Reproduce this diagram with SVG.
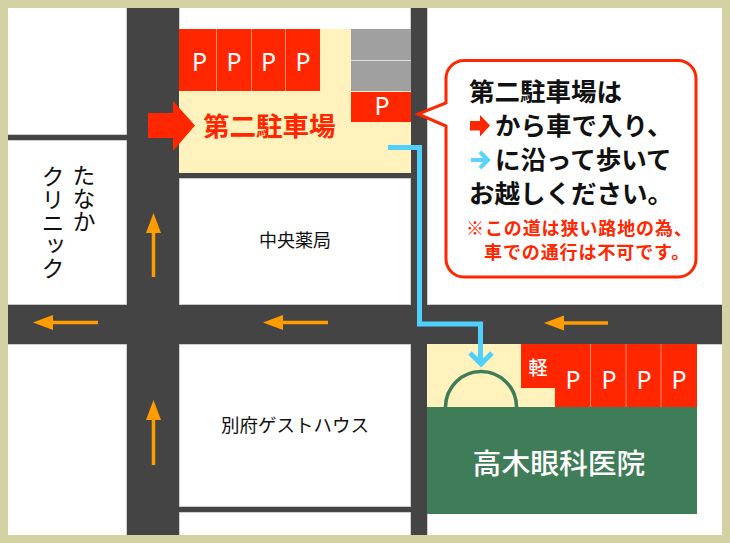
<svg xmlns="http://www.w3.org/2000/svg" width="730" height="543" viewBox="0 0 730 543">
<style>
text{font-family:"Noto Sans CJK JP","Noto Sans",sans-serif}
.p{font-family:"Noto Sans",sans-serif;font-size:25px;font-weight:400;fill:#fff;text-anchor:middle}
.red{fill:#ff2600}
.div{stroke:#ff8a70;stroke-width:1}
.ow{fill:none;stroke:#ff9d00;stroke-width:3.5}
.oh{fill:#ff9d00}
.lbl{fill:#111;font-size:18px;text-anchor:middle}
.v{fill:#111;font-size:23px;writing-mode:vertical-rl}
.bb{fill:#111;font-size:25.5px;font-weight:700}
.rs{fill:#ff2600;font-size:18px;font-weight:700;letter-spacing:.9px}
</style>
<rect width="730" height="543" fill="#fff"/>
<g id="roads">
<path d="M127 8h52v527h-52zM411 8h16v527h-16zM8 305h714v39H8zM8 135h119v5H8zM179 173h232v5H179zM179 507h232v5H179z" fill="#444" stroke="#bbb" stroke-width="1.4" paint-order="stroke"/>
</g>
<rect id="frame" x="4" y="4" width="722" height="535" fill="none" stroke="#d4d2a4" stroke-width="8"/>
<g id="parking2">
<rect x="179" y="29" width="232" height="144" fill="#fff2bc"/>
<rect class="red" x="179" y="29" width="141" height="62"/>
<path class="div" d="M216.500 29v62M251.500 29v62M285.500 29v62"/>
<rect x="351" y="29" width="60" height="62" fill="#a0a0a0"/>
<path d="M351 60.500h60" stroke="#ddd" stroke-width="1"/>
<rect class="red" x="351" y="92" width="60" height="30"/>
<text class="p" x="199.500" y="71">P</text><text class="p" x="234" y="71">P</text><text class="p" x="268.500" y="71">P</text><text class="p" x="303" y="71">P</text>
<text class="p" x="382" y="115">P</text>
<text x="203" y="136" font-size="26.500" font-weight="700" fill="#ff2600">第二駐車場</text>
</g>
<path id="entry-arrow" class="red" d="M148 113h25v-12l22 24.500-22 25.500v-13h-25z"/>
<g id="nakaoyakkyoku"><text class="lbl" x="295" y="247">中央薬局</text></g>
<g id="guesthouse"><text class="lbl" x="295" y="432" style="font-size:18.500px">別府ゲストハウス</text></g>
<g id="clinic"><text class="v" x="84" y="164">たなか</text><text class="v" x="53" y="165">クリニック</text></g>
<g id="hospital">
<rect x="427" y="344" width="128" height="63" fill="#fff2bc"/>
<rect class="red" x="521" y="344" width="34" height="44"/>
<rect class="red" x="555" y="344" width="142" height="63"/>
<path class="div" d="M590.500 344v63M626 344v63M661 344v63"/>
<rect x="427" y="407" width="270" height="107" fill="#3e7d57"/>
<path d="M445.500 407a35.500 35.500 0 0 1 71 0" fill="none" stroke="#3e7d57" stroke-width="3.500"/>
<text x="538" y="375" font-size="19" font-weight="500" fill="#fff" text-anchor="middle">軽</text>
<text class="p" x="573" y="389">P</text><text class="p" x="609" y="389">P</text><text class="p" x="644" y="389">P</text><text class="p" x="679" y="389">P</text>
<text x="559" y="474" font-size="28.800" font-weight="500" fill="#fff" text-anchor="middle">高木眼科医院</text>
</g>
<g id="connectors">
<path class="ow" d="M153.500 277V230"/><path class="oh" d="M153.500 213l7.500 20h-15z"/>
<path class="ow" d="M153.500 465V418"/><path class="oh" d="M153.500 400l7.500 20h-15z"/>
<path class="ow" d="M98 322.500H50"/><path class="oh" d="M33 322.500l20-7.500v15z"/>
<path class="ow" d="M328 322.500H280"/><path class="oh" d="M263 322.500l20-7.500v15z"/>
<path class="ow" d="M608 323H560"/><path class="oh" d="M544 323l20-7.500v15z"/>
<path d="M388 147.500h31.500v176.500h61v37" fill="none" stroke="#4fd0ff" stroke-width="5"/>
<path d="M470 353l11 11 11-11" fill="none" stroke="#4fd0ff" stroke-width="5"/>
</g>
<g id="callout">
<path d="M463 60.500H678a18 18 0 0 1 18 18V259a18 18 0 0 1-18 18H464a18 18 0 0 1-18-18V126L418 114l28-11V78.500a18 18 0 0 1 18-18z" fill="#fff" stroke="#ff2600" stroke-width="3"/>
<text class="bb" x="469" y="101">第二駐車場は</text>
<path class="red" d="M470 121h10v-6l10 10.500-10 11v-6h-10z"/>
<text class="bb" x="495" y="135">から車で入り、</text>
<path d="M471 160h15M480 152l8 8-8 8" fill="none" stroke="#5bd3ff" stroke-width="4"/>
<text class="bb" x="495" y="169">に沿って歩いて</text>
<text class="bb" x="469" y="203">お越しください。</text>
<text class="rs" x="466" y="235">※この道は狭い路地の為、</text>
<text class="rs" x="484" y="259">車での通行は不可です。</text>
</g>
</svg>
